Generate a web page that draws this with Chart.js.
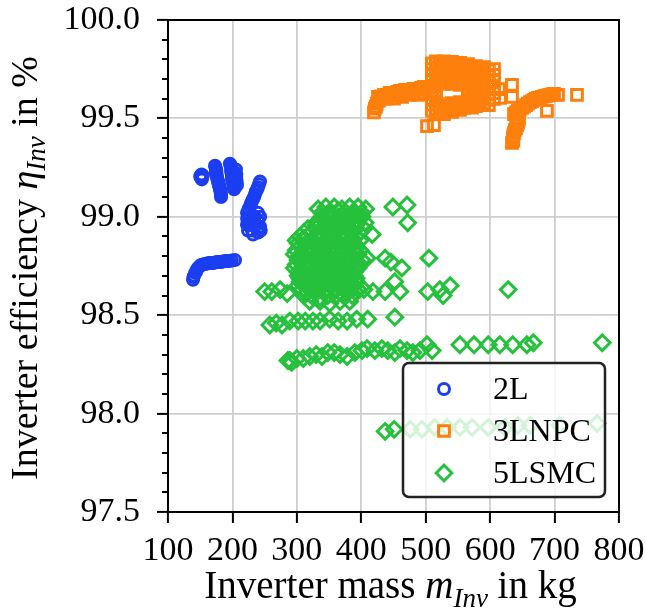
<!DOCTYPE html>
<html>
<head>
<meta charset="utf-8">
<script src="https://cdn.jsdelivr.net/npm/chart.js@4.4.0/dist/chart.umd.min.js"></script>
<style>
  html, body { margin: 0; padding: 0; background: #fff; }
  #wrap { width: 646px; height: 614px; }
</style>
</head>
<body>
<div id="wrap"><canvas id="chart" width="646" height="614"></canvas></div>
<script>
const seriesNames = ['2L', '3LNPC', '5LSMC'];
const massRange = [100, 800];
const effRange = [97.5, 100.0];

// [inverter mass in kg, efficiency in %]
const points2L = [
  [151, 99.21], [153, 99.20], [154, 99.21], [152, 99.215], [150, 99.205], [152.5, 99.19], [151, 99.20],
  [173, 99.26], [173.7, 99.253], [174.5, 99.24], [175.2, 99.233], [174.5, 99.22], [175.5, 99.212], [176, 99.20], [176.8, 99.192],
  [177.6, 99.18], [178.4, 99.172], [179, 99.16], [180, 99.152], [180.7, 99.14], [181.5, 99.131], [182, 99.12], [182.3, 99.11], [182.3, 99.10],
  [196, 99.27], [197, 99.263], [197.8, 99.25], [198.5, 99.243], [198, 99.23], [198.8, 99.222], [199.3, 99.21], [199.5, 99.202],
  [199.5, 99.19], [200.1, 99.182], [201, 99.17], [201.6, 99.162], [202.4, 99.15], [203, 99.145], [202.6, 99.14],
  [205.5, 99.24], [204, 99.225], [206, 99.215], [205.8, 99.20], [206.5, 99.18], [206, 99.17], [207, 99.16],
  [242.8, 99.18], [241.3, 99.165], [239.7, 99.15], [238.2, 99.138], [236.6, 99.13], [235, 99.113], [233.5, 99.10], [232, 99.09],
  [230.4, 99.08], [228.8, 99.068], [227.3, 99.055], [225, 99.04],
  [222.6, 99.02], [222.8, 98.99], [222.6, 98.96], [224.2, 98.93], [226.5, 99.00], [226.5, 98.96],
  [230.4, 99.01], [230.6, 98.97], [230.4, 98.93], [232, 98.91], [235, 99.00], [235, 98.95],
  [239.7, 99.02], [239.9, 98.98], [239.7, 98.94], [240, 98.92], [243, 99.00], [243, 98.95], [244, 98.93],
  [138.8, 98.68], [139.5, 98.694], [140.4, 98.70], [142, 98.715], [143.5, 98.72], [145, 98.733], [146.6, 98.74], [148.8, 98.748],
  [151.2, 98.755], [154, 98.758], [157.4, 98.76], [160.5, 98.763], [163.6, 98.765], [166.7, 98.765],
  [169.8, 98.765], [173, 98.768], [176, 98.77], [179, 98.77], [182.3, 98.77], [185.4, 98.773], [188.5, 98.775],
  [191.6, 98.775], [194.7, 98.775], [199, 98.778], [204, 98.78]
];

const points3LNPC = [
  [419.7, 99.53], [421, 99.55], [422.8, 99.56], [424, 99.575], [427.5, 99.59], [425.9, 99.61], [430, 99.60], [431, 99.612],
  [435.2, 99.62], [438.3, 99.60], [442, 99.615], [444, 99.63], [447.6, 99.63], [450.8, 99.60], [455, 99.62], [456, 99.635],
  [460.1, 99.64], [463.2, 99.61], [468, 99.63], [468, 99.645], [472.5, 99.64], [475.6, 99.62], [480, 99.64], [481, 99.65],
  [484.9, 99.65], [488, 99.62], [492, 99.645], [493, 99.655], [497.3, 99.66], [497.3, 99.63],
  [509.7, 99.78], [509.7, 99.75], [509.7, 99.72], [509.7, 99.69], [509.7, 99.66], [509.7, 99.63], [509.7, 99.60], [509.7, 99.57], [509.7, 99.54],
  [515.9, 99.79], [515.9, 99.76], [515.9, 99.73], [515.9, 99.70], [515.9, 99.67], [515.9, 99.64], [515.9, 99.61], [515.9, 99.58], [515.9, 99.55], [515.9, 99.527],
  [522, 99.776], [522, 99.746], [522, 99.715], [522, 99.685], [522, 99.56], [522, 99.53],
  [528.4, 99.79], [528.4, 99.76], [528.4, 99.73], [528.4, 99.70], [528.4, 99.675], [528.4, 99.573], [528.4, 99.543], [528.4, 99.522],
  [534.6, 99.774], [534.6, 99.744], [534.6, 99.713], [534.6, 99.683], [534.6, 99.565], [534.6, 99.537],
  [540.8, 99.787], [540.8, 99.756], [540.8, 99.726], [540.8, 99.695], [540.8, 99.675], [540.8, 99.578], [540.8, 99.553], [540.8, 99.533],
  [547, 99.77], [547, 99.74], [547, 99.71], [547, 99.68], [547, 99.573], [547, 99.548],
  [553.2, 99.782], [553.2, 99.751], [553.2, 99.721], [553.2, 99.69], [553.2, 99.67], [553.2, 99.583], [553.2, 99.563], [553.2, 99.543],
  [559.4, 99.765], [559.4, 99.735], [559.4, 99.705], [559.4, 99.675], [559.4, 99.578], [559.4, 99.553],
  [565.6, 99.776], [565.6, 99.746], [565.6, 99.715], [565.6, 99.685], [565.6, 99.654], [565.6, 99.624], [565.6, 99.594], [565.6, 99.563],
  [571.8, 99.76], [571.8, 99.73], [571.8, 99.70], [571.8, 99.67], [571.8, 99.64], [571.8, 99.61], [571.8, 99.58], [571.8, 99.555],
  [578, 99.766], [578, 99.736], [578, 99.705], [578, 99.675], [578, 99.644], [578, 99.614], [578, 99.583], [578, 99.563],
  [584.2, 99.752], [584.2, 99.722], [584.2, 99.692], [584.2, 99.66], [584.2, 99.63], [584.2, 99.60], [584.2, 99.57],
  [590.4, 99.761], [590.4, 99.731], [590.4, 99.70], [590.4, 99.67], [590.4, 99.639], [590.4, 99.609], [590.4, 99.578],
  [598, 99.745], [598, 99.715], [598, 99.685], [598, 99.655], [598, 99.625], [598, 99.595], [598, 99.568],
  [606, 99.751], [606, 99.721], [606, 99.69], [606, 99.66], [606, 99.629], [606, 99.599],
  [613.7, 99.649], [615.3, 99.604], [633.9, 99.67], [633.9, 99.609],
  [637, 99.522], [640, 99.53], [643.2, 99.538], [646, 99.546], [649.4, 99.553], [652.5, 99.56], [655.6, 99.568], [658.7, 99.575],
  [661.8, 99.583], [665, 99.588], [668, 99.594], [671, 99.60], [674.2, 99.604], [677, 99.606], [680.4, 99.609], [683.5, 99.612],
  [686.7, 99.614], [690, 99.617], [692.9, 99.619], [696, 99.622], [699.1, 99.624],
  [633.9, 99.375], [636, 99.387], [635.4, 99.40], [636, 99.413], [637, 99.426], [638.5, 99.44], [640.1, 99.451], [641.7, 99.464],
  [643.2, 99.477], [644, 99.49], [644.8, 99.502],
  [688.2, 99.538], [705.3, 99.619], [734.8, 99.619], [502, 99.461], [512.8, 99.466]
];

const points5LSMC = [
  [333, 99.04], [345, 99.05], [358, 99.05], [370, 99.04], [382, 99.05], [395, 99.05], [407, 99.04],
  [449, 99.05], [471, 99.06], [472, 98.97],
  [339, 99.02], [351, 99.02], [364, 99.03], [376, 99.02], [389, 99.02], [401, 99.02],
  [339, 99.00], [351, 99.01], [364, 99.00], [376, 99.00], [389, 99.01], [401, 99.00],
  [333, 98.98], [345, 98.98], [358, 98.98], [370, 98.98], [382, 98.98], [395, 98.98],
  [330, 98.96], [342, 98.95], [354, 98.96], [367, 98.96], [379, 98.95], [392, 98.96], [406, 98.97], [417, 98.91],
  [317, 98.94], [330, 98.94], [342, 98.94], [354, 98.94], [367, 98.94], [379, 98.94], [392, 98.94], [404, 98.94],
  [311, 98.92], [323, 98.92], [336, 98.91], [348, 98.92], [361, 98.92], [373, 98.91], [386, 98.92], [398, 98.92],
  [305, 98.90], [317, 98.90], [330, 98.90], [342, 98.90], [354, 98.90], [367, 98.90], [379, 98.90], [392, 98.90],
  [299, 98.88], [311, 98.89], [323, 98.88], [336, 98.88], [348, 98.89], [361, 98.88], [373, 98.88], [386, 98.89], [398, 98.88],
  [302, 98.865], [314, 98.865], [327, 98.865], [339, 98.865], [351, 98.865], [364, 98.865], [376, 98.865], [389, 98.865],
  [305, 98.85], [317, 98.84], [330, 98.85], [342, 98.85], [354, 98.84], [367, 98.85], [379, 98.85], [392, 98.84],
  [299, 98.83], [311, 98.83], [323, 98.83], [336, 98.83], [348, 98.83], [361, 98.83], [373, 98.83], [386, 98.83], [398, 98.83],
  [296, 98.81], [308, 98.81], [320, 98.82], [333, 98.81], [345, 98.81], [358, 98.81], [370, 98.82], [382, 98.81], [395, 98.81],
  [302, 98.795], [314, 98.795], [327, 98.795], [339, 98.795], [351, 98.795], [364, 98.795], [376, 98.795], [389, 98.795],
  [302, 98.78], [314, 98.77], [327, 98.78], [339, 98.78], [351, 98.77], [364, 98.78], [376, 98.78], [389, 98.77], [401, 98.78],
  [299, 98.757], [311, 98.757], [323, 98.757], [336, 98.757], [348, 98.757], [361, 98.757], [373, 98.757], [386, 98.757], [398, 98.757],
  [296, 98.74], [308, 98.74], [320, 98.75], [333, 98.74], [345, 98.74], [358, 98.73], [370, 98.74], [382, 98.74], [395, 98.74],
  [302, 98.72], [314, 98.72], [327, 98.72], [339, 98.72], [351, 98.72], [364, 98.72], [376, 98.72], [389, 98.72],
  [302, 98.70], [314, 98.71], [327, 98.70], [339, 98.70], [351, 98.71], [364, 98.70], [376, 98.70], [389, 98.70],
  [305, 98.687], [317, 98.687], [330, 98.687], [342, 98.687], [354, 98.687], [367, 98.687], [379, 98.687], [392, 98.687],
  [305, 98.67], [317, 98.67], [330, 98.66], [342, 98.67], [354, 98.67], [367, 98.67], [379, 98.66], [392, 98.67],
  [302, 98.65], [314, 98.65], [326, 98.65], [339, 98.65], [351, 98.65], [364, 98.65], [376, 98.65], [389, 98.65],
  [308, 98.63], [320, 98.64], [333, 98.63], [345, 98.63], [358, 98.63], [370, 98.64], [382, 98.63], [395, 98.63],
  [317, 98.615], [330, 98.615], [342, 98.615], [354, 98.615], [367, 98.615], [379, 98.615], [392, 98.615],
  [311, 98.60], [323, 98.60], [336, 98.59], [348, 98.60], [361, 98.60], [373, 98.60], [386, 98.60],
  [320, 98.57], [336, 98.57], [351, 98.56], [367, 98.57], [382, 98.57],
  [409, 98.79], [437, 98.79], [446, 98.77], [463, 98.74], [505, 98.79], [452, 98.67], [418, 98.62], [437, 98.62],
  [460, 98.62], [503, 98.62], [522, 98.63], [538, 98.65], [527, 98.60], [628, 98.63], [404, 98.63],
  [250, 98.62], [261, 98.62], [274, 98.63], [285, 98.61],
  [258, 98.45], [268, 98.46], [277, 98.45], [289, 98.47], [302, 98.47], [313, 98.47], [325, 98.47], [336, 98.47],
  [351, 98.48], [364, 98.47], [378, 98.47], [393, 98.48], [410, 98.48], [452, 98.49],
  [286, 98.27], [292, 98.26], [289, 98.27], [300, 98.28], [310, 98.28], [320, 98.29], [330, 98.30], [339, 98.29],
  [348, 98.31], [358, 98.31], [367, 98.30], [378, 98.29], [390, 98.31], [401, 98.32], [409, 98.33], [421, 98.32],
  [432, 98.33], [441, 98.32], [452, 98.31], [460, 98.33], [471, 98.32], [480, 98.31], [491, 98.32], [502, 98.35],
  [510, 98.32], [553, 98.35], [575, 98.35], [597, 98.35], [615, 98.35], [635, 98.35], [657, 98.35], [667, 98.36], [774, 98.36],
  [437, 97.91], [451, 97.92], [476, 97.92], [494, 97.92], [514, 97.93], [533, 97.93], [553, 97.93], [572, 97.93],
  [597, 97.93], [623, 97.93], [643, 97.94], [662, 97.94], [708, 97.94], [766, 97.95]
];

const FONT = "'Liberation Serif', 'Times New Roman', serif";
const BLUE = '#1c3ef2';
const ORANGE = '#fd7f0c';
const GREEN = '#26c13c';

function toXY(arr) {
  return arr.map(p => ({ x: p[0], y: p[1] }));
}

function fontFor(part, size) {
  const s = part[2] ? Math.round(size * 0.7) : size;
  return (part[1] ? 'italic ' : '') + s + 'px ' + FONT;
}

function drawRichText(ctx, parts, size) {
  let total = 0;
  const widths = parts.map(p => {
    ctx.font = fontFor(p, size);
    const w = ctx.measureText(p[0]).width;
    total += w;
    return w;
  });
  let x = -total / 2;
  parts.forEach((p, i) => {
    ctx.font = fontFor(p, size);
    ctx.fillText(p[0], x, p[2] ? size * 0.22 : 0);
    x += widths[i];
  });
}

function noLabelPadding(s) {
  s.paddingTop = 0;
  s.paddingBottom = 0;
  s.paddingLeft = 0;
  s.paddingRight = 0;
}

const axisTitles = {
  id: 'axisTitles',
  afterDraw(chart) {
    const { ctx, chartArea } = chart;
    ctx.save();
    ctx.fillStyle = '#000';
    ctx.textBaseline = 'alphabetic';
    ctx.textAlign = 'left';
    ctx.save();
    ctx.translate((chartArea.left + chartArea.right) / 2 - 3, chart.height - 16);
    drawRichText(ctx, [['Inverter mass ', false, false], ['m', true, false], ['Inv', true, true], [' in kg', false, false]], 39);
    ctx.restore();
    ctx.save();
    ctx.translate(37, (chartArea.top + chartArea.bottom) / 2 + 2);
    ctx.rotate(-Math.PI / 2);
    drawRichText(ctx, [['Inverter efficiency ', false, false], ['η', true, false], ['Inv', true, true], [' in %', false, false]], 38);
    ctx.restore();
    ctx.restore();
  }
};

const frameAndMinor = {
  id: 'frameAndMinor',
  afterDatasetsDraw(chart) {
    const { ctx, chartArea } = chart;
    const yScale = chart.scales.y;
    ctx.save();
    ctx.strokeStyle = '#000';
    ctx.lineWidth = 2;
    ctx.beginPath();
    for (let t = Math.round(effRange[0] * 10); t <= Math.round(effRange[1] * 10); t++) {
      if (t % 5 === 0) continue;
      const py = Math.round(yScale.getPixelForValue(t / 10));
      ctx.moveTo(chartArea.left - 6, py);
      ctx.lineTo(chartArea.left, py);
    }
    ctx.stroke();
    ctx.strokeRect(chartArea.left, chartArea.top, chartArea.right - chartArea.left, chartArea.bottom - chartArea.top);
    ctx.restore();
  }
};

const boxLegend = {
  id: 'boxLegend',
  afterDatasetsDraw(chart) {
    const { ctx, chartArea } = chart;
    const w = 202, h = 134;
    const x0 = chartArea.right - 14 - w;
    const y0 = chartArea.bottom - 15 - h;
    ctx.save();
    ctx.beginPath();
    ctx.roundRect(x0, y0, w, h, 6);
    ctx.fillStyle = 'rgba(255,255,255,0.8)';
    ctx.fill();
    ctx.lineWidth = 2.5;
    ctx.strokeStyle = '#222';
    ctx.stroke();
    chart.data.datasets.forEach((ds, i) => {
      const cy = y0 + 26 + i * 42;
      ctx.strokeStyle = ds.borderColor;
      ctx.fillStyle = 'rgba(0,0,0,0)';
      ctx.lineWidth = ds.borderWidth;
      Chart.helpers.drawPoint(ctx, { pointStyle: ds.pointStyle, radius: ds.pointRadius, rotation: 0, borderWidth: ds.borderWidth }, x0 + 41, cy);
      ctx.fillStyle = '#000';
      ctx.font = '32px ' + FONT;
      ctx.textAlign = 'left';
      ctx.textBaseline = 'alphabetic';
      ctx.fillText(ds.label, x0 + 90, cy + 10);
    });
    ctx.restore();
  }
};

const ctx = document.getElementById('chart').getContext('2d');
new Chart(ctx, {
  type: 'scatter',
  data: {
    datasets: [
      { label: seriesNames[0], data: toXY(points2L), pointStyle: 'circle', pointRadius: 5.5, borderWidth: 3, borderColor: BLUE, backgroundColor: 'rgba(0,0,0,0)' },
      { label: seriesNames[1], data: toXY(points3LNPC), pointStyle: 'rect', pointRadius: 7.6, borderWidth: 3, borderColor: ORANGE, backgroundColor: 'rgba(0,0,0,0)' },
      { label: seriesNames[2], data: toXY(points5LSMC), pointStyle: 'rectRot', pointRadius: 7.8, borderWidth: 3, borderColor: GREEN, backgroundColor: 'rgba(0,0,0,0)' }
    ]
  },
  options: {
    responsive: false,
    animation: false,
    devicePixelRatio: 1,
    layout: { padding: { top: 20, right: 27, left: 0, bottom: 0 } },
    plugins: { legend: { display: false }, tooltip: { enabled: false } },
    scales: {
      x: {
        type: 'linear',
        min: massRange[0],
        max: massRange[1],
        afterFit: s => { s.height = 102; noLabelPadding(s); },
        border: { display: false },
        grid: { color: '#cfcfcf', lineWidth: 1.8, tickColor: '#000', tickLength: 11, tickWidth: 2 },
        ticks: { stepSize: 100, autoSkip: false, maxRotation: 0, padding: 8, color: '#000', font: { family: FONT, size: 34 } }
      },
      y: {
        type: 'linear',
        min: effRange[0],
        max: effRange[1],
        afterFit: s => { s.width = 168; noLabelPadding(s); },
        border: { display: false },
        grid: { color: '#cfcfcf', lineWidth: 1.8, tickColor: '#000', tickLength: 11, tickWidth: 2 },
        ticks: { stepSize: 0.5, padding: 17, color: '#000', font: { family: FONT, size: 34 }, callback: v => v.toFixed(1) }
      }
    }
  },
  plugins: [frameAndMinor, boxLegend, axisTitles]
});
</script>
</body>
</html>
